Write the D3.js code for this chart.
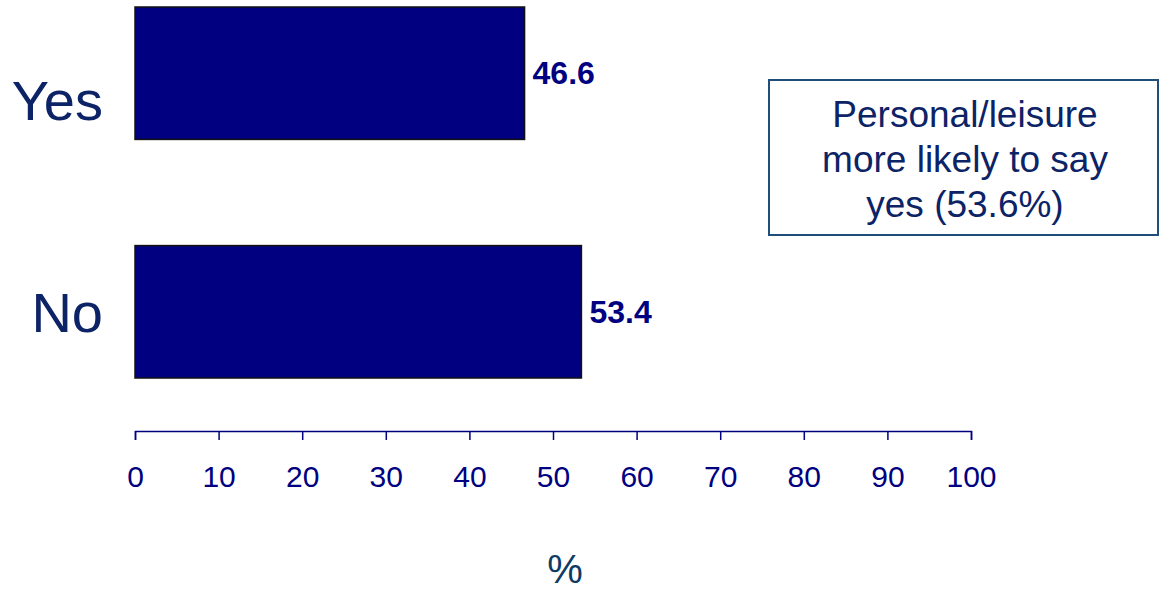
<!DOCTYPE html>
<html>
<head>
<meta charset="utf-8">
<script src="https://cdn.jsdelivr.net/npm/d3@7"></script>
<style>
  html, body { margin: 0; padding: 0; background: #fff; }
  svg { display: block; font-family: Arial, "Liberation Sans", sans-serif; }
</style>
</head>
<body>
<svg id="chart" width="1160" height="590"></svg>
<script>
// Survey answers and their shares (%)
const categories = ["Yes", "No"];
const values = [46.6, 53.4];
const xTicks = [0, 10, 20, 30, 40, 50, 60, 70, 80, 90, 100];
const axisTitle = "%";
const noteLines = ["Personal/leisure", "more likely to say", "yes (53.6%)"];

const svg = d3.select("#chart");
const navy = "#000080";
const textBlue = "#0c2366";

const x = d3.scaleLinear().domain([0, 100]).range([135, 971]);
const y = d3.scaleBand().domain(categories).range([7, 378])
  .paddingInner(0.445).paddingOuter(0);
// category names sit on their own point scale
const yLabel = d3.scalePoint().domain(categories).range([100, 312]);

// bars
svg.append("g").selectAll("rect")
  .data(categories)
  .join("rect")
  .attr("x", x(0))
  .attr("y", d => y(d))
  .attr("width", (d, i) => x(values[i]) - x(0))
  .attr("height", y.bandwidth())
  .attr("fill", navy)
  .attr("stroke", "#111")
  .attr("stroke-width", 1.5);

// value labels
svg.append("g").selectAll("text")
  .data(categories)
  .join("text")
  .attr("x", (d, i) => x(values[i]) + 8)
  .attr("y", d => y(d) + y.bandwidth() / 2 + 11)
  .attr("fill", navy)
  .attr("font-size", 32)
  .attr("font-weight", "bold")
  .text((d, i) => values[i].toFixed(1));

// category labels
svg.append("g").selectAll("text")
  .data(categories)
  .join("text")
  .attr("x", 103)
  .attr("y", d => yLabel(d) + 20)
  .attr("text-anchor", "end")
  .attr("fill", textBlue)
  .attr("font-size", 56)
  .text(d => d);

// x axis
const axis = svg.append("g")
  .attr("transform", "translate(0,431)")
  .call(d3.axisBottom(x).tickValues(xTicks).tickSize(9).tickPadding(26).tickSizeOuter(9));
axis.select(".domain").attr("stroke", navy).attr("stroke-width", 1.5);
axis.selectAll(".tick line").attr("stroke", navy).attr("stroke-width", 1.5);
axis.selectAll(".tick text")
  .attr("fill", navy)
  .attr("font-size", 30)
  .attr("font-family", "Arial, 'Liberation Sans', sans-serif");

// axis title
svg.append("text")
  .attr("x", 565)
  .attr("y", 583)
  .attr("text-anchor", "middle")
  .attr("fill", "#0d3b66")
  .attr("font-size", 40)
  .text(axisTitle);

// note box
const note = svg.append("g");
note.append("rect")
  .attr("x", 769).attr("y", 80)
  .attr("width", 389).attr("height", 155)
  .attr("fill", "#fff")
  .attr("stroke", "#1f4e79")
  .attr("stroke-width", 2);
note.selectAll("text")
  .data(noteLines)
  .join("text")
  .attr("x", 965)
  .attr("y", (d, i) => 127 + i * 45)
  .attr("text-anchor", "middle")
  .attr("fill", textBlue)
  .attr("font-size", 37)
  .text(d => d);
</script>
</body>
</html>
